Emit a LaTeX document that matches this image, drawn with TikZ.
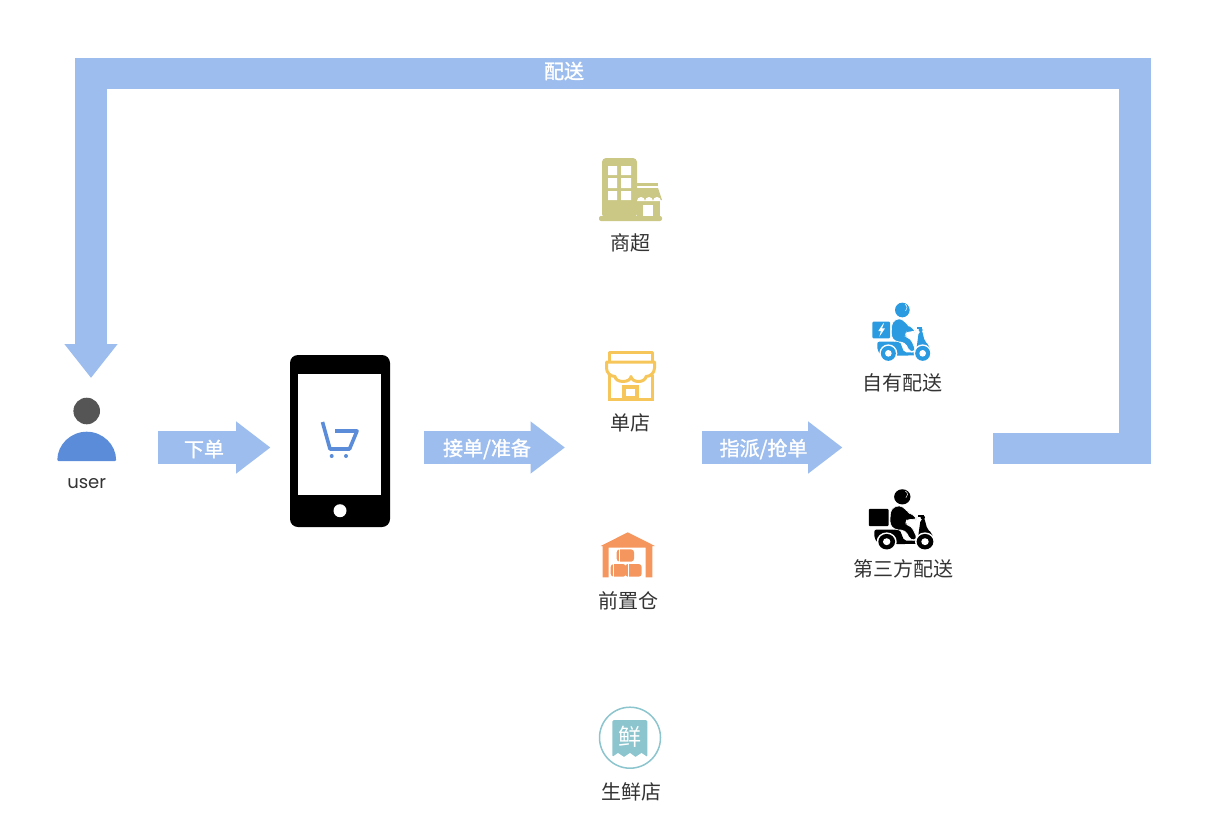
\documentclass[tikz,border=0pt]{standalone}
\usepackage{fontspec}
\setmainfont{Noto Sans CJK SC}
\newfontfamily\latinfont{Poppins}
\newfontfamily\arrfont[FakeBold=1.4]{Noto Sans CJK SC}
\usepackage{xcolor}
\usetikzlibrary{arrows.meta}
\definecolor{arrblue}{HTML}{9DBDEE}
\definecolor{iconblue}{HTML}{5B8CD9}
\definecolor{usergray}{HTML}{555555}
\definecolor{marketgreen}{HTML}{CBC785}
\definecolor{shopyellow}{HTML}{F6C65B}
\definecolor{storeorange}{HTML}{F4965E}
\definecolor{freshteal}{HTML}{8CC5CD}
\definecolor{scooterblue}{HTML}{2A9BE0}
\definecolor{labelgray}{HTML}{333333}
\tikzset{
  pics/scooter/.style={code={
    \fill[#1, rounded corners=1pt] (67,80) rectangle (120,130);
    \fill[#1, rounded corners=2pt] (82,140) -- (150,140) -- (162,172) -- (198,172) -- (206,112) -- (216,106)
      -- (224,138) -- (236,150) -- (245,180) -- (150,182) -- (92,180) -- (82,165) -- cycle;
    \fill[white] (115,175) circle (27) (218,175) circle (27);
    \fill[#1] (115,175) circle (22.5) (218,175) circle (22.5);
    \fill[white] (115,175) circle (10) (218,175) circle (10);
    \fill[#1] (157,45) circle (22);
    \draw[white, line width=0.5pt] (165,28) arc (-60:50:12);
    \fill[#1, draw=white, line width=0.6pt, rounded corners=4pt] (126,80) -- (150,68) -- (170,85) -- (178,95)
      -- (197,103) -- (193,113) -- (170,108) -- (165,125) -- (182,130) -- (198,168) -- (180,172)
      -- (165,142) -- (135,140) -- (123,125) -- cycle;
    \fill[#1] (200,97) rectangle (216,103);
    \fill[#1] (212,105) circle (6);
  }},
  pics/bolt/.style={code={
    \fill[white] (100,85) -- (85,108) -- (93,108) -- (88,125) -- (105,100) -- (96,100) -- (102,85) -- cycle;
  }}
}
\begin{document}
\begin{tikzpicture}[
  x=1pt, y=-1pt,
  lbl/.style={font=\fontsize{20}{24}\selectfont, text=labelgray, inner sep=0pt},
  arrlabel/.style={font=\arrfont\fontsize{20}{24}\selectfont, text=white, inner sep=0pt},
  flowarr/.style={-{Triangle[length=34.5pt,width=50pt]}, line width=33pt, draw=arrblue},
  backarr/.style={-{Triangle[length=34pt,width=51pt]}, line width=31.5pt, draw=arrblue, line join=miter}
]
\useasboundingbox (0,0) rectangle (1206,836);

%% --- Return arrow ---
\coordinate (backstart) at (993,448.5);
\coordinate (backtop) at (1135,73.5);
\coordinate (backend) at (91,378);
\draw[backarr] (backstart) -| (backtop) -| (backend);
\node[arrlabel] (backlabel) at (564,71) {配送};

%% --- User ---
\fill[usergray] (86.7,411) circle (13.3);
\fill[iconblue, rounded corners=1pt] (57.3,461) arc (180:360:29.4 and 29.3) -- cycle;
\node[lbl, font=\latinfont\fontsize{18}{22}\selectfont] (user) at (86.7,484) {user};

%% --- Phone ---
\fill[black, rounded corners=8pt] (290,355) rectangle (390,527);
\fill[white] (298.3,374.3) rectangle (381,495);
\fill[white] (340,510.7) circle (6.5);
\coordinate (phone) at (340,441);
\draw[iconblue, line width=3.6pt, line join=round]
  (322.5,422) -- (330,449) -- (349.5,449) -- (357,431) -- (335,431);
\fill[iconblue] (331.7,456) circle (2) (346,456) circle (2);

%% --- Order arrows ---
\coordinate (orderstart) at (158,447.5);
\coordinate (orderend) at (270.5,447.5);
\draw[flowarr] (orderstart) -- (orderend);
\node[arrlabel] (orderlabel) at (204,449) {下单};
\coordinate (takestart) at (424,447.5);
\coordinate (takeend) at (565,447.5);
\draw[flowarr] (takestart) -- (takeend);
\node[arrlabel] (takelabel) at (487,449) {接单/准备};
\coordinate (assignstart) at (702,447.5);
\coordinate (assignend) at (842.5,447.5);
\draw[flowarr] (assignstart) -- (assignend);
\node[arrlabel] (assignlabel) at (763.5,449) {指派/抢单};

%% --- Supermarket ---
\fill[marketgreen, rounded corners=4pt] (602,158) rectangle (637,218);
\fill[marketgreen, rounded corners=2pt] (599,216) rectangle (662,221);
\fill[white] (608,166) rectangle (617,175) (621,166) rectangle (631,175)
  (608,178) rectangle (617,188) (621,178) rectangle (631,188)
  (608,191) rectangle (617,200) (621,191) rectangle (631,200);
\fill[marketgreen] (637,183) rectangle (658,186);
\fill[marketgreen] (637,200) rectangle (660,217);
\fill[marketgreen] (637,188) -- (658,188) -- (662,200) -- (637,200) -- cycle;
\foreach \sx in {637,645,653}
  \fill[white] (\sx,201) arc (180:360:4 and 4) -- cycle;
\fill[white] (643,205) rectangle (653,216);
\node[lbl] (market) at (630,243) {商超};

%% --- Shop ---
\draw[shopyellow, line width=3pt, line join=round] (609,362) -- (609,352.5) -- (652,352.5) -- (652,362);
\draw[shopyellow, line width=3pt] (609,375) -- (609,399) -- (652,399) -- (652,375);
\draw[shopyellow, line width=3pt, line join=round]
  (606.5,362) -- (654.5,362) -- (654.5,368) arc (0:90:8.5) arc (0:180:7.5 and 5) arc (0:180:8 and 5)
  arc (90:180:8.5) -- cycle;
\draw[shopyellow, line width=3.5pt] (624,387) rectangle (637,398);
\node[lbl] (shop) at (630,423) {单店};

%% --- Front warehouse ---
\fill[storeorange] (600.7,546) -- (627.7,532.3) -- (655,546) -- (652.3,546) -- (652.3,577.3) -- (645.7,577.3)
  -- (645.7,547.5) -- (608.5,547.5) -- (608.5,577.3) -- (602.7,577.3) -- (602.7,546) -- cycle;
\fill[storeorange, rounded corners=3pt] (616.7,549.3) rectangle (634,561.7);
\fill[storeorange, rounded corners=3pt] (610.7,564) rectangle (626,576.7);
\fill[storeorange, rounded corners=3pt] (625,564) rectangle (641.7,576.7);
\draw[white, line width=0.6pt] (619,549.3) -- (619,561.7) (613,564) -- (613,576.7) (628,564) -- (628,576.7);
\node[lbl] (store) at (628,601) {前置仓};

%% --- Fresh shop ---
\draw[freshteal, line width=1.5pt] (630,737.7) circle (30.5);
\fill[freshteal, rounded corners=1.5pt] (612.3,757) -- (612.3,720) -- (647.3,720) -- (647.3,757) -- cycle;
\fill[white] (612.3,757) -- (618,753) -- (624,757) -- (630,753) -- (635.5,757) -- (641.5,753) -- (647.3,757)
  -- (647.3,758) -- (612.3,758) -- cycle;
\node[font=\fontsize{23}{27}\selectfont, text=white, inner sep=0pt] (freshmark) at (630,737) {鲜};
\node[lbl] (fresh) at (631,792) {生鲜店};

%% --- Riders ---
\pic[scale=0.3333] (ownrider) at (850,295) {scooter=scooterblue};
\pic[scale=0.3333] (ownbolt) at (850,295) {bolt};
\node[lbl] (own) at (902.5,383) {自有配送};
\pic[xscale=0.372, yscale=0.345] (thirdrider) at (843.9,481.3) {scooter=black};
\node[lbl] (third) at (903,569) {第三方配送};
\end{tikzpicture}
\end{document}
